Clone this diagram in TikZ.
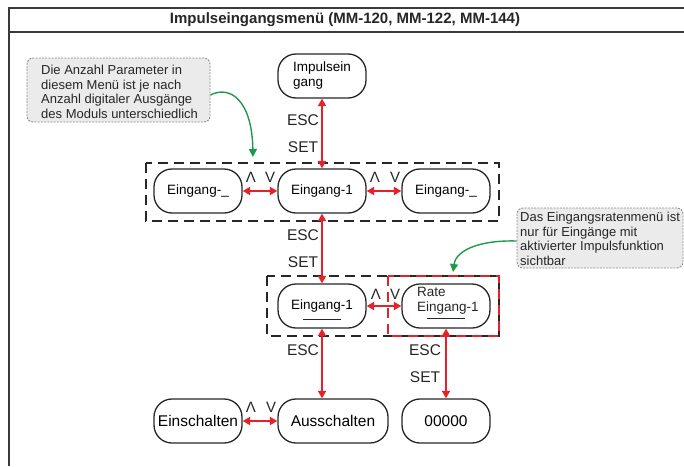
\documentclass[tikz,border=0pt]{standalone}
\usepackage{fontspec}
\setmainfont{Liberation Sans}
\usetikzlibrary{arrows.meta}
\definecolor{signalred}{HTML}{E3222A}
\definecolor{hintgreen}{HTML}{1E9A4A}
\definecolor{framegray}{HTML}{3A3A3A}
\definecolor{notefill}{HTML}{EBEBEB}
\definecolor{notedash}{HTML}{8C8C8C}

\begin{document}
\begin{tikzpicture}[x=1pt,y=-1pt,
  menubox/.style={draw=black!85, line width=1.3pt, rounded corners=18pt,
    minimum width=88pt, minimum height=44pt, inner sep=0pt, align=center,
    font=\fontsize{13.5}{15}\selectfont},
  bigmenubox/.style={menubox, font=\fontsize{15.5}{18}\selectfont},
  keylabel/.style={inner sep=0pt, font=\fontsize{15.5}{18}\selectfont, text=black!85},
  navlabel/.style={inner sep=0pt, font=\fontsize{15}{18}\selectfont, text=black!85},
  keyarrow/.style={draw=signalred, line width=2pt,
    {Triangle[length=7.5pt,width=8pt]}-{Triangle[length=7.5pt,width=8pt]}},
  groupdash/.style={draw=black!85, line width=2.3pt, dash pattern=on 10pt off 6pt},
  ratedash/.style={draw=signalred, line width=2.3pt, dash pattern=on 10pt off 6pt},
  notebox/.style={draw=notedash, fill=notefill, line width=0.9pt,
    dash pattern=on 2pt off 1.2pt, rounded corners=6pt, inner sep=0pt},
  notetext/.style={inner sep=0pt, align=left, font=\fontsize{13}{14.5}\selectfont, text=black!85},
  hintarrow/.style={draw=hintgreen, line width=1.4pt, -{Triangle[length=8pt,width=8pt]}},
  underbar/.style={draw=black!85, line width=1pt},
]
\useasboundingbox (0,0) rectangle (684,466);

% frame and title bar
\draw[framegray, line width=2pt] (684,8) -- (9,8) -- (9,466);
\draw[framegray, line width=2pt] (9,32) -- (684,32);
\node[inner sep=0pt, font=\bfseries\fontsize{15}{18}\selectfont, text=black!85] (title) at (345,20)
  {Impulseingangsmenü (MM-120, MM-122, MM-144)};

% dashed groupings
\draw[groupdash] (146,163) rectangle (499,221);
\draw[groupdash] (267,276) rectangle (499,336);
\draw[ratedash] (388,276) rectangle (499,336);

% menu entries
\node[menubox, align=left] (imp) at (322,76) {Impulsein\\gang};
\node[menubox] (inL) at (198,191) {Eingang-\_};
\node[menubox] (in1) at (322,191) {Eingang-1};
\node[menubox] (inR) at (446,191) {Eingang-\_};
\node[menubox] (sel) at (322,306) {Eingang-1};
\node[menubox] (rate) at (446,306) {};
\node[notetext, anchor=west, font=\fontsize{13.5}{15}\selectfont] (ratetxt) at (417,300.5) {Rate\\Eingang-1};
\draw[underbar] ([xshift=-19pt,yshift=-13pt]sel.center) -- ++(38,0);
\draw[underbar] ([xshift=-19pt,yshift=-12.5pt]rate.center) -- ++(38,0);
\node[bigmenubox] (on) at (198,421) {Einschalten};
\node[bigmenubox, minimum width=110pt] (off) at (333,421) {Ausschalten};
\node[bigmenubox] (val) at (446,421) {00000};

% key transitions
\draw[keyarrow] (imp.south) -- (imp.south |- in1.north);
\draw[keyarrow] (inL) -- (in1);
\draw[keyarrow] (in1) -- (inR);
\draw[keyarrow] (in1.south) -- (in1.south |- sel.north);
\draw[keyarrow] (sel) -- (rate);
\draw[keyarrow] (sel.south) -- (sel.south |- off.north);
\draw[keyarrow] (rate) -- (val);
\draw[keyarrow] (on) -- (off);

% key names
\node[keylabel] (esc1) at (303,120) {ESC};
\node[keylabel] (set1) at (303,147) {SET};
\node[keylabel] (esc2) at (303,235) {ESC};
\node[keylabel] (set2) at (303,262) {SET};
\node[keylabel] (esc3) at (303,350) {ESC};
\node[keylabel] (esc4) at (425,350) {ESC};
\node[keylabel] (set4) at (425,377) {SET};

% up / down keys
\node[navlabel] (upA) at (251,177) {Λ};
\node[navlabel] (dnA) at (270,177) {V};
\node[navlabel] (upB) at (375,177) {Λ};
\node[navlabel] (dnB) at (395,177) {V};
\node[navlabel] (upC) at (376,294) {Λ};
\node[navlabel] (dnC) at (395,294) {V};
\node[navlabel] (upD) at (251,407) {Λ};
\node[navlabel] (dnD) at (271,407) {V};

% notes
\node[notebox, minimum width=183pt, minimum height=64pt] (note1) at (118.5,90) {};
\node[notetext, anchor=west] (note1txt) at (41,91.75)
  {Die Anzahl Parameter in\\diesem Menü ist je nach\\Anzahl digitaler Ausgänge\\des Moduls unterschiedlich};
\coordinate (tip1) at (253,157);
\draw[hintarrow] ([yshift=-5pt]note1.east) .. controls (230,85) and (252,100) .. (tip1);

\node[notebox, minimum width=166pt, minimum height=60pt] (note2) at (600,238) {};
\node[notetext, anchor=west] (note2txt) at (520,239)
  {Das Eingangsratenmenü ist\\nur für Eingänge mit\\aktivierter Impulsfunktion\\sichtbar};
\coordinate (tip2) at (453,272);
\draw[hintarrow] ([yshift=-3pt]note2.west) .. controls (480,240) and (456,250) .. (tip2);
\end{tikzpicture}
\end{document}
